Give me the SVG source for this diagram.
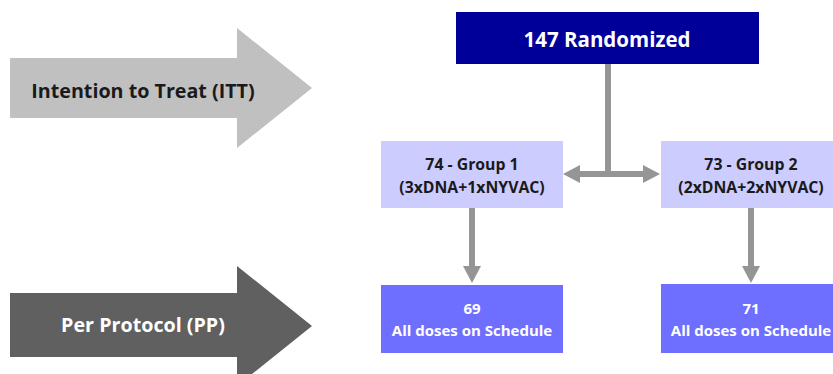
<svg xmlns="http://www.w3.org/2000/svg" width="833" height="374" viewBox="0 0 833 374">
  <style>
    text { font-family: "Open Sans", "Noto Sans", "Liberation Sans", sans-serif; font-weight: bold; text-anchor: middle; }
    .lbl { font-size: 19.7px; }
    .top { font-size: 20.5px; fill: #ffffff; }
    .grp { font-size: 15.8px; fill: #1a1a1a; }
    .pp  { font-size: 15px; fill: #ffffff; }
    .conn { stroke: #959595; stroke-width: 6; fill: none; }
    .head { fill: #959595; }
  </style>

  <!-- phase arrows -->
  <g id="itt">
    <polygon points="10,58 237,58 237,28 312,88 237,148 237,118 10,118" fill="#c0c0c0"/>
    <text class="lbl" x="143" y="98" fill="#1a1a1a">Intention to Treat (ITT)</text>
  </g>
  <g id="pp">
    <polygon points="10,293 237,293 237,266 312,326 237,386 237,357 10,357" fill="#606060"/>
    <text class="lbl" x="143" y="332" fill="#ffffff">Per Protocol (PP)</text>
  </g>

  <!-- flow boxes -->
  <g id="randomized">
    <rect x="456" y="12" width="303" height="52" fill="#000099"/>
    <text class="top" x="607" y="47">147 Randomized</text>
  </g>
  <g id="group1">
    <rect x="381" y="141" width="182" height="67" fill="#ccccff"/>
    <text class="grp" x="472" y="170">74 - Group 1</text>
    <text class="grp" x="472" y="193">(3xDNA+1xNYVAC)</text>
  </g>
  <g id="group2">
    <rect x="661" y="141" width="180" height="67" fill="#ccccff"/>
    <text class="grp" x="751" y="170">73 - Group 2</text>
    <text class="grp" x="751" y="193">(2xDNA+2xNYVAC)</text>
  </g>
  <g id="pp1">
    <rect x="381" y="285" width="182" height="68" fill="#6e6eff"/>
    <text class="pp" x="472" y="314">69</text>
    <text class="pp" x="472" y="336">All doses on Schedule</text>
  </g>
  <g id="pp2">
    <rect x="661" y="284" width="180" height="69" fill="#6e6eff"/>
    <text class="pp" x="751" y="314">71</text>
    <text class="pp" x="751" y="336">All doses on Schedule</text>
  </g>

  <!-- connectors -->
  <g id="connectors">
    <line class="conn" x1="608" y1="64" x2="608" y2="171"/>
    <line class="conn" x1="578" y1="174" x2="645" y2="174"/>
    <polygon class="head" points="563,174 580,165 580,183"/>
    <polygon class="head" points="660,174 643,165 643,183"/>
    <line class="conn" x1="472" y1="208" x2="472" y2="268"/>
    <polygon class="head" points="472,283 463,266 481,266"/>
    <line class="conn" x1="751" y1="208" x2="751" y2="268"/>
    <polygon class="head" points="751,283 742,266 760,266"/>
  </g>
</svg>
